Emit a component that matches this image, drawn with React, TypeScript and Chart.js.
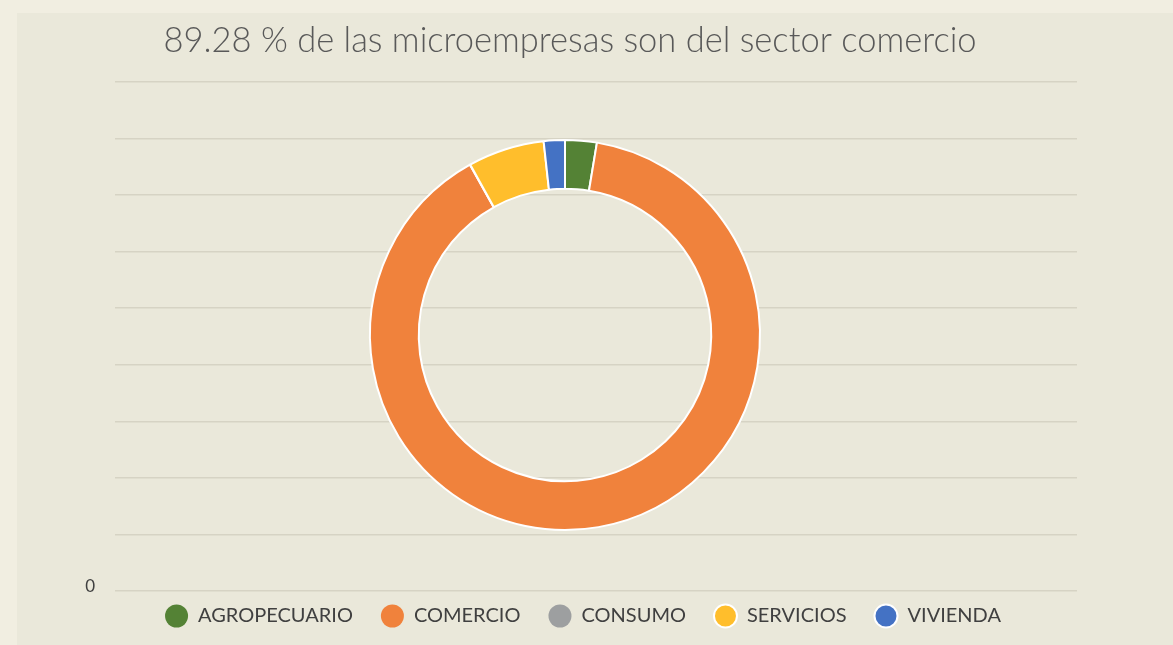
import React, { useEffect, useRef } from "react";
import { Chart, registerables } from "chart.js";

Chart.register(...registerables);

const categories = ["AGROPECUARIO", "COMERCIO", "CONSUMO", "SERVICIOS", "VIVIENDA"];
const shares = [2.62, 89.28, 0.02, 6.33, 1.75];
const colors = ["#548235", "#F0823C", "#9D9FA0", "#FFBE2C", "#4472C4"];
const legendBorders = [0, 0, 0, 2, 2];
const titleText = "89.28 % de las microempresas son del sector comercio";
const gridMin = 0;
const gridMax = 9;
const shownTicks = [0];

const FONT = "Lato, 'Open Sans', sans-serif";

const boxShift = {
  id: "boxShift",
  afterLayout(chart: any) {
    const l = chart.legend;
    if (l) {
      l.left += 18;
      l.right += 18;
    }
    const t = chart.titleBlock;
    if (t) {
      t.left += 5;
      t.right += 5;
    }
  },
};

export default function App() {
  const gridRef = useRef<HTMLCanvasElement>(null);
  const pieRef = useRef<HTMLCanvasElement>(null);

  useEffect(() => {
    document.body.style.margin = "0";
    const grid = new Chart(gridRef.current!, {
      type: "line",
      data: { labels: [], datasets: [] },
      options: {
        animation: false,
        responsive: false,
        maintainAspectRatio: false,
        layout: { padding: { left: 38, right: 96, top: 69, bottom: 54 } },
        plugins: { legend: { display: false }, title: { display: false }, tooltip: { enabled: false } },
        scales: {
          x: { display: false },
          y: {
            min: gridMin,
            max: gridMax,
            afterFit: (s: any) => {
              s.width = 60;
            },
            border: { display: false },
            grid: { color: "#D6D3C4", lineWidth: 1.5, drawTicks: false },
            ticks: {
              stepSize: 1,
              padding: 20,
              labelOffset: -4,
              color: "#404040",
              font: { family: FONT, size: 17 },
              callback: (v: any) => (shownTicks.includes(Number(v)) ? String(v) : ""),
            },
          },
        },
      },
    });

    const pie = new Chart(pieRef.current!, {
      type: "doughnut",
      plugins: [boxShift],
      data: {
        labels: categories,
        datasets: [
          {
            data: shares,
            backgroundColor: colors,
            borderColor: "#FFFFFF",
            borderWidth: 2,
          },
        ],
      },
      options: {
        animation: false,
        responsive: false,
        maintainAspectRatio: false,
        radius: 195,
        cutout: "75%",
        layout: { padding: { bottom: 9 } },
        plugins: {
          tooltip: { enabled: false },
          title: {
            display: true,
            text: titleText,
            color: "#595959",
            font: { family: FONT, size: 34.5, weight: "300" },
            padding: { top: 7, bottom: 30.6 },
          },
          legend: {
            position: "bottom",
            labels: {
              usePointStyle: true,
              pointStyle: "circle",
              pointStyleWidth: 23,
              boxHeight: 16.3,
              padding: 28,
              color: "#404040",
              font: { family: FONT, size: 20 },
              generateLabels: (chart: any) => {
                const items = Chart.overrides.doughnut.plugins.legend.labels.generateLabels(chart);
                return items.map((it: any, i: number) => ({
                  ...it,
                  lineWidth: legendBorders[i],
                  strokeStyle: "#FFFFFF",
                }));
              },
            },
          },
        },
      },
    });

    return () => {
      grid.destroy();
      pie.destroy();
    };
  }, []);

  return (
    <div style={{ position: "relative", width: 1173, height: 645, background: "#F1EEE1", overflow: "hidden" }}>
      <div style={{ position: "absolute", left: 17, top: 13, width: 1156, height: 632, background: "#EAE8DA" }} />
      <canvas ref={gridRef} width={1156} height={632} style={{ position: "absolute", left: 17, top: 13, width: 1156, height: 632 }} />
      <canvas ref={pieRef} width={1100} height={632} style={{ position: "absolute", left: 15, top: 13, width: 1100, height: 632 }} />
    </div>
  );
}
